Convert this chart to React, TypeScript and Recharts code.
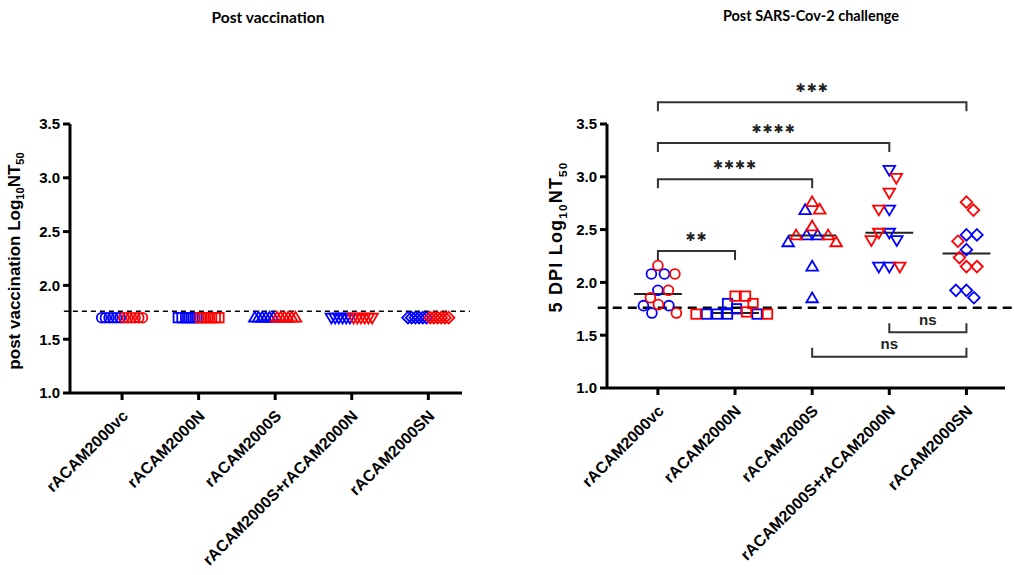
import React from "react";
import { ScatterChart, Scatter, XAxis, YAxis, ReferenceLine } from "recharts";

const groups = [
  "rACAM2000vc",
  "rACAM2000N",
  "rACAM2000S",
  "rACAM2000S+rACAM2000N",
  "rACAM2000SN",
];
const yTicks = [1.0, 1.5, 2.0, 2.5, 3.0, 3.5];
const detectionLimit = 1.76;

// post vaccination: every animal sits at the assay floor
const vaccBlue = [
  [1.7, 1.7, 1.7, 1.7, 1.7, 1.7],
  [1.7, 1.7, 1.7, 1.7, 1.7, 1.7],
  [1.7, 1.7, 1.7, 1.7, 1.7, 1.7],
  [1.7, 1.7, 1.7, 1.7, 1.7, 1.7],
  [1.7, 1.7, 1.7, 1.7, 1.7, 1.7],
];
const vaccRed = [
  [1.7, 1.7, 1.7, 1.7, 1.7, 1.7],
  [1.7, 1.7, 1.7, 1.7, 1.7, 1.7],
  [1.7, 1.7, 1.7, 1.7, 1.7, 1.7],
  [1.7, 1.7, 1.7, 1.7, 1.7, 1.7],
  [1.7, 1.7, 1.7, 1.7, 1.7, 1.7],
];

// 5 DPI after SARS-CoV-2 challenge
const dpiBlue = [
  [2.08, 2.08, 1.925, 1.78, 1.78, 1.71],
  [1.8, 1.75, 1.7, 1.7, 1.7, 1.7],
  [2.685, 2.445, 2.445, 2.38, 2.15, 1.85],
  [3.065, 2.69, 2.47, 2.4, 2.15, 2.15],
  [2.45, 2.45, 2.31, 1.925, 1.925, 1.855],
];
const dpiRed = [
  [2.16, 2.08, 1.925, 1.855, 1.79, 1.71],
  [1.87, 1.87, 1.8, 1.72, 1.7, 1.7],
  [2.76, 2.69, 2.53, 2.445, 2.445, 2.38],
  [2.99, 2.85, 2.69, 2.47, 2.4, 2.15],
  [2.76, 2.685, 2.39, 2.235, 2.15, 2.15],
];

// pairwise tests: bar height (log10 NT50) and result
const comparisons = [
  { from: 0, to: 1, at: 2.298, label: "**", up: false },
  { from: 0, to: 2, at: 2.977, label: "****", up: false },
  { from: 0, to: 3, at: 3.319, label: "****", up: false },
  { from: 0, to: 4, at: 3.706, label: "***", up: false },
  { from: 3, to: 4, at: 1.529, label: "ns", up: true },
  { from: 2, to: 4, at: 1.297, label: "ns", up: true },
];

const BLUE = "#0000ff";
const RED = "#ff0000";
const ARIAL = "Liberation Sans, Arial, sans-serif";
const STAR_FONT = "DejaVu Sans, sans-serif";

const H = 575;
const Y_W = 70;
const X_H = 150;
const TOP = 124;

const LEFT = { w: 470, right: 8, bottom: 32, domain: [-0.68, 4.44] };
const RIGHT = { w: 477, right: 9, bottom: 37, domain: [-0.66, 4.5] };

type Pt = { x: number; y: number; tone: "blue" | "red" };

const median = (vals: number[]) => {
  const s = [...vals].sort((a, b) => a - b);
  const m = Math.floor(s.length / 2);
  return s.length % 2 ? s[m] : (s[m - 1] + s[m]) / 2;
};

// simple beeswarm: place highest first, nearest free horizontal slot
function swarm(vals: number[], pxX: number, pxY: number, gap: number) {
  const order = vals.map((_, i) => i).sort((a, b) => vals[b] - vals[a]);
  const placed: [number, number][] = [];
  const out = new Array(vals.length).fill(0);
  order.forEach((i, n) => {
    const py = vals[i] * pxY;
    const fits = (px: number) =>
      placed.every(([qx, qy]) => (qx - px) ** 2 + (qy - py) ** 2 >= gap * gap);
    const side = n % 2 ? 1 : -1;
    let px = 0;
    if (!fits(0)) {
      for (let k = 1; k < 400; k++) {
        const a = k * 0.5 * side;
        if (fits(a)) { px = a; break; }
        if (fits(-a)) { px = -a; break; }
      }
    }
    placed.push([px, py]);
    out[i] = px / pxX;
  });
  return out;
}

const plotW = (c: typeof LEFT) => c.w - Y_W - c.right;
const pxPerX = (c: typeof LEFT) => plotW(c) / (c.domain[1] - c.domain[0]);
const pxPerY = (c: typeof LEFT) => (H - TOP - c.bottom - X_H) / 2.5;

const vaccPoints: Pt[][] = groups.map((_, g) => {
  const vals = [...vaccBlue[g], ...vaccRed[g]];
  const step = 3.7 / pxPerX(LEFT);
  return vals.map((v, k) => ({
    x: g + (k - (vals.length - 1) / 2) * step,
    y: v,
    tone: k < vaccBlue[g].length ? "blue" : "red",
  }));
});

const dpiPoints: Pt[][] = groups.map((_, g) => {
  const vals = [...dpiBlue[g], ...dpiRed[g]];
  const offs = swarm(vals, pxPerX(RIGHT), pxPerY(RIGHT), 10.4);
  return vals.map((v, k) => ({
    x: g + offs[k],
    y: v,
    tone: k < dpiBlue[g].length ? "blue" : "red",
  }));
});

const Marker = ({ cx, cy, kind, color }: any) => {
  const sw = 1.8;
  const common = { fill: "none", stroke: color, strokeWidth: sw };
  if (kind === 0) return <circle cx={cx} cy={cy} r={4.9} {...common} />;
  if (kind === 1) return <rect x={cx - 4.7} y={cy - 4.7} width={9.4} height={9.4} {...common} />;
  if (kind === 2)
    return <polygon points={`${cx},${cy - 5.8} ${cx + 5.8},${cy + 4} ${cx - 5.8},${cy + 4}`} {...common} />;
  if (kind === 3)
    return <polygon points={`${cx - 5.8},${cy - 4} ${cx + 5.8},${cy - 4} ${cx},${cy + 5.8}`} {...common} />;
  return (
    <polygon points={`${cx},${cy - 5.8} ${cx + 5.8},${cy} ${cx},${cy + 5.8} ${cx - 5.8},${cy}`} {...common} />
  );
};

const XTick = (p: any) => {
  const x = p.x + 7;
  const y = p.y + 15;
  return (
    <text
      x={x}
      y={y}
      transform={`rotate(-45 ${x} ${y})`}
      textAnchor="end"
      fontFamily={ARIAL}
      fontWeight="bold"
      fontSize={16}
      fill="#000"
    >
      {groups[p.payload.value]}
    </text>
  );
};

const YTitle = ({ tx, ty, lead, size, spacing }: any) => (
  <text
    x={tx}
    y={ty}
    transform={`rotate(-90 ${tx} ${ty})`}
    textAnchor="middle"
    fontFamily={ARIAL}
    fontWeight="bold"
    fontSize={size}
    letterSpacing={spacing}
    fill="#000"
  >
    {lead}Log
    <tspan dy={size * 0.25} fontSize={size * 0.65}>10</tspan>
    <tspan dy={-size * 0.25}>NT</tspan>
    <tspan dy={size * 0.25} fontSize={size * 0.65}>50</tspan>
  </text>
);

const bracket = (label: string, up: boolean) => (p: any) => {
  const { x1, y1, x2 } = p;
  const t = up ? -9 : 9;
  const stars = label.includes("*");
  return (
    <g>
      <path
        d={`M${x1},${y1 + t}V${y1}H${x2}V${y1 + t}`}
        fill="none"
        stroke="#333"
        strokeWidth={2}
      />
      <text
        x={(x1 + x2) / 2}
        y={y1 - (stars ? 14 : 13)}
        textAnchor="middle"
        dominantBaseline="central"
        fontFamily={stars ? STAR_FONT : ARIAL}
        fontWeight="bold"
        fontSize={stars ? 12 : 15}
        letterSpacing={stars ? 1 : 0}
        fill="#222"
      >
        {stars ? "\u2731".repeat(label.length) : label}
      </text>
    </g>
  );
};

const tickStyle = { fontFamily: ARIAL, fontWeight: "bold", fontSize: 15, fill: "#000" };

function Panel({
  cfg,
  points,
  showMedian,
  dash,
  yTitle,
}: {
  cfg: typeof LEFT;
  points: Pt[][];
  showMedian: boolean;
  dash: { w: number; d: string; from: number; to: number };
  yTitle: { x: number; y: number; lead: string; size: number; spacing: number };
}) {
  return (
    <ScatterChart
      width={cfg.w}
      height={H}
      margin={{ top: TOP, right: cfg.right, bottom: cfg.bottom, left: 0 }}
    >
      <XAxis
        type="number"
        dataKey="x"
        domain={cfg.domain}
        ticks={[0, 1, 2, 3, 4]}
        interval={0}
        allowDataOverflow
        height={X_H}
        tick={<XTick />}
        tickSize={7}
        axisLine={{ stroke: "#000", strokeWidth: 3 }}
        tickLine={{ stroke: "#000", strokeWidth: 3 }}
      />
      <YAxis
        type="number"
        dataKey="y"
        domain={[1, 3.5]}
        ticks={yTicks}
        interval={0}
        allowDataOverflow
        width={Y_W}
        tickSize={7}
        tickMargin={3}
        tick={tickStyle}
        tickFormatter={(v: number) => v.toFixed(1)}
        axisLine={{ stroke: "#000", strokeWidth: 3 }}
        tickLine={{ stroke: "#000", strokeWidth: 3 }}
        label={
          <YTitle
            tx={yTitle.x}
            ty={yTitle.y}
            lead={yTitle.lead}
            size={yTitle.size}
            spacing={yTitle.spacing}
          />
        }
      />
      {points.map((pts, g) => (
        <Scatter
          key={"b" + g}
          data={pts.filter((p) => p.tone === "blue")}
          isAnimationActive={false}
          shape={(p: any) => <Marker cx={p.cx} cy={p.cy} kind={g} color={BLUE} />}
        />
      ))}
      {points.map((pts, g) => (
        <Scatter
          key={"r" + g}
          data={pts.filter((p) => p.tone === "red")}
          isAnimationActive={false}
          shape={(p: any) => <Marker cx={p.cx} cy={p.cy} kind={g} color={RED} />}
        />
      ))}
      {showMedian &&
        points.map((pts, g) => {
          const m = median(pts.map((p) => p.y));
          return (
            <ReferenceLine
              key={"m" + g}
              segment={[{ x: g - 0.31, y: m }, { x: g + 0.31, y: m }]}
              stroke="#222"
              strokeWidth={2}
              ifOverflow="visible"
            />
          );
        })}
      <ReferenceLine
        segment={[{ x: dash.from, y: detectionLimit }, { x: dash.to, y: detectionLimit }]}
        stroke="#000"
        strokeWidth={dash.w}
        strokeDasharray={dash.d}
        ifOverflow="visible"
      />
      {showMedian &&
        comparisons.map((c, i) => (
          <ReferenceLine
            key={"c" + i}
            segment={[{ x: c.from, y: c.at }, { x: c.to, y: c.at }]}
            ifOverflow="visible"
            shape={bracket(c.label, c.up)}
          />
        ))}
    </ScatterChart>
  );
}

const titleStyle: React.CSSProperties = {
  position: "absolute",
  fontFamily: "Lato, 'Open Sans', sans-serif",
  fontWeight: "bold",
  lineHeight: "20px",
  color: "#000",
  transform: "translateX(-50%)",
  whiteSpace: "nowrap",
};

export default function App() {
  return (
    <div
      style={{
        position: "absolute",
        left: 0,
        top: 0,
        width: 1014,
        height: 575,
        background: "#fff",
        overflow: "hidden",
      }}
    >
      <div style={{ ...titleStyle, left: 268, top: 7, fontSize: 15.5 }}>Post vaccination</div>
      <div style={{ ...titleStyle, left: 811, top: 6, fontSize: 14.5 }}>Post SARS-Cov-2 challenge</div>
      <div style={{ position: "absolute", left: 0, top: 0 }}>
        <Panel
          cfg={LEFT}
          points={vaccPoints}
          showMedian={false}
          dash={{ w: 1.6, d: "5 4", from: -0.76, to: 4.77 }}
          yTitle={{ x: 20, y: 261, lead: "post vaccination ", size: 17, spacing: 0 }}
        />
      </div>
      <div style={{ position: "absolute", left: 537, top: 0 }}>
        <Panel
          cfg={RIGHT}
          points={dpiPoints}
          showMedian
          dash={{ w: 2.6, d: "9 6", from: -0.78, to: 4.6 }}
          yTitle={{ x: 25, y: 237, lead: "5 DPI ", size: 18, spacing: 1.2 }}
        />
      </div>
    </div>
  );
}
